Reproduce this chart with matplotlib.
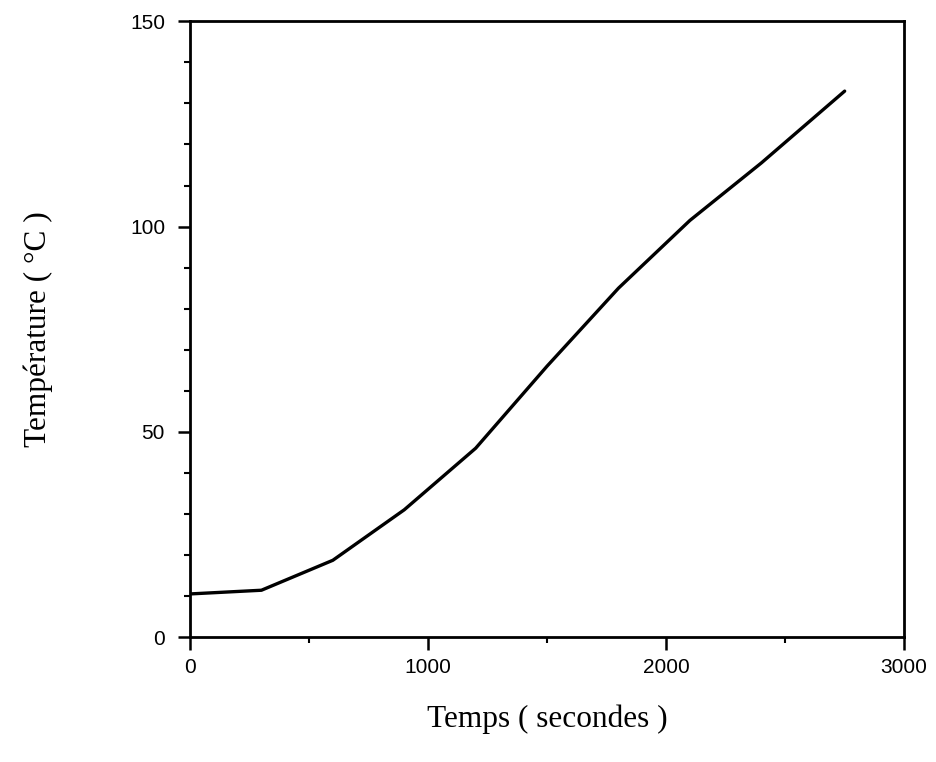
import numpy as np
import matplotlib.pyplot as plt
from matplotlib.ticker import MultipleLocator

# Temps (s) et température (°C)
temps = [0, 300, 600, 900, 1200, 1500, 1800, 2100, 2400, 2750]
temperature = [10.5, 11.4, 18.7, 31, 46, 66, 85, 101.5, 115.5, 133]

fig = plt.figure(figsize=(9.36, 7.62), dpi=100)
ax = fig.add_axes([0.203, 0.164, 0.763, 0.808])

ax.plot(temps, temperature, color='black', linewidth=2.4, solid_capstyle='round')

ax.set_xlim(0, 3000)
ax.set_ylim(0, 150)
ax.xaxis.set_major_locator(MultipleLocator(1000))
ax.xaxis.set_minor_locator(MultipleLocator(500))
ax.yaxis.set_major_locator(MultipleLocator(50))
ax.yaxis.set_minor_locator(MultipleLocator(10))

for s in ax.spines.values():
    s.set_linewidth(2.0)

ax.tick_params(which='major', direction='out', length=9, width=1.8,
               labelsize=15, pad=6)
ax.tick_params(which='minor', direction='out', length=4, width=1.5)
ax.tick_params(axis='y', which='major', pad=9)
for lab in ax.get_xticklabels() + ax.get_yticklabels():
    lab.set_fontfamily('Liberation Sans')

ax.set_xlabel('Temps ( secondes )', fontsize=22.5, family='Liberation Serif',
              labelpad=20)
ax.set_ylabel('Température ( °C )', fontsize=22.5, family='Liberation Serif',
              labelpad=55)

fig.savefig('out.png', dpi=100)
